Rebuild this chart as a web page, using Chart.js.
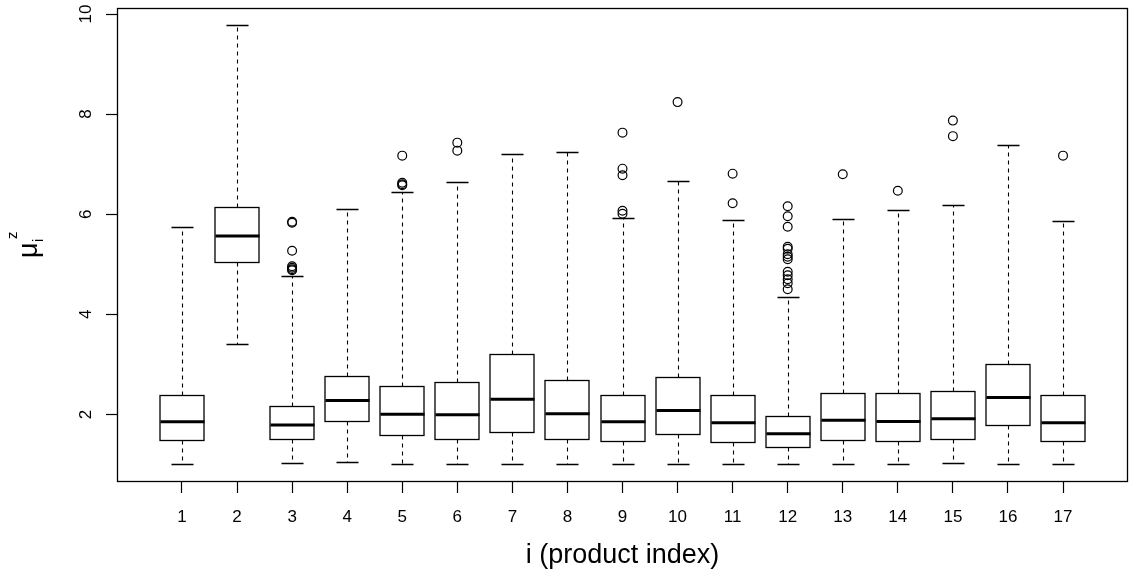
<!DOCTYPE html>
<html>
<head>
<meta charset="utf-8">
<script src="https://cdn.jsdelivr.net/npm/chart.js@4.4.0/dist/chart.umd.min.js"></script>
<style>
  html, body { margin: 0; padding: 0; background: #fff; }
  #wrap { width: 1136px; height: 579px; position: relative; }
</style>
</head>
<body>
<div id="wrap"><canvas id="boxChart"></canvas></div>
<script>
// product index
const categories = [1, 2, 3, 4, 5, 6, 7, 8, 9, 10, 11, 12, 13, 14, 15, 16, 17];

// five-number summaries
const whiskerLow  = [1.00, 3.40, 1.03, 1.04, 1.016, 1.016, 1.016, 1.016, 1.016, 1.016, 1.016, 1.016, 1.016, 1.016, 1.03, 1.016, 1.016];
const q1          = [1.48, 5.05, 1.515, 1.867, 1.595, 1.50, 1.64, 1.50, 1.475, 1.607, 1.455, 1.342, 1.487, 1.475, 1.515, 1.787, 1.475];
const median      = [1.855, 5.565, 1.79, 2.28, 2.006, 1.994, 2.305, 2.014, 1.854, 2.08, 1.834, 1.615, 1.886, 1.86, 1.914, 2.34, 1.834];
const q3          = [2.385, 6.15, 2.166, 2.77, 2.56, 2.645, 3.21, 2.685, 2.379, 2.738, 2.379, 1.966, 2.425, 2.42, 2.465, 3.017, 2.379];
const whiskerHigh = [5.74, 9.78, 4.77, 6.11, 6.435, 6.635, 7.21, 7.247, 5.924, 6.668, 5.89, 4.34, 5.90, 6.09, 6.19, 7.387, 5.864];

const outliers = [
    [],
    [],
    [5.85, 5.83, 5.27, 4.96, 4.93, 4.90, 4.88],
    [],
    [7.17, 6.63, 6.60, 6.58],
    [7.43, 7.27],
    [],
    [],
    [7.63, 6.91, 6.78, 6.07, 6.01],
    [8.24],
    [6.81, 6.22],
    [6.16, 5.96, 5.75, 5.35, 5.31, 5.20, 5.15, 5.10, 4.85, 4.78, 4.70, 4.62, 4.50],
    [6.80],
    [6.47],
    [7.87, 7.56],
    [],
    [7.17]
];

const yTicks = [2, 4, 6, 8, 10];

const FONT = "'Liberation Sans', Arial, Helvetica, sans-serif";
Chart.defaults.font.family = FONT;
Chart.defaults.color = '#000';

const outlierPoints = categories.flatMap((c, i) => outliers[i].map(v => ({ x: c, y: v })));

// draws boxes, whiskers, frame and the rotated y-axis texts
const boxPlotPlugin = {
    id: 'boxPlot',
    beforeDatasetsDraw(chart) {
        const { ctx, scales: { x, y } } = chart;
        const unit = x.getPixelForValue(1) - x.getPixelForValue(0);
        const half = unit * 0.4;
        ctx.save();
        ctx.strokeStyle = '#000';
        categories.forEach((c, i) => {
            const cx = Math.round(x.getPixelForValue(c)) + 0.5;
            const yLo = Math.round(y.getPixelForValue(whiskerLow[i])) + 0.5;
            const yQ1 = Math.round(y.getPixelForValue(q1[i])) + 0.5;
            const yMed = y.getPixelForValue(median[i]);
            const yQ3 = Math.round(y.getPixelForValue(q3[i])) + 0.5;
            const yHi = Math.round(y.getPixelForValue(whiskerHigh[i])) + 0.5;

            // whiskers (dashed)
            ctx.lineWidth = 1.1;
            ctx.setLineDash([4, 4]);
            ctx.beginPath();
            ctx.moveTo(cx, yQ1); ctx.lineTo(cx, yLo);
            ctx.moveTo(cx, yQ3); ctx.lineTo(cx, yHi);
            ctx.stroke();

            // caps
            ctx.setLineDash([]);
            ctx.lineWidth = 1.3;
            ctx.beginPath();
            ctx.moveTo(cx - half / 2, yLo); ctx.lineTo(cx + half / 2, yLo);
            ctx.moveTo(cx - half / 2, yHi); ctx.lineTo(cx + half / 2, yHi);
            ctx.stroke();

            // box
            ctx.fillStyle = '#fff';
            ctx.fillRect(cx - half, yQ3, half * 2, yQ1 - yQ3);
            ctx.strokeRect(Math.round(cx - half), yQ3, Math.round(half * 2), yQ1 - yQ3);

            // median
            ctx.lineWidth = 3;
            ctx.beginPath();
            ctx.moveTo(cx - half, yMed); ctx.lineTo(cx + half, yMed);
            ctx.stroke();
        });
        ctx.restore();
    },
    afterDraw(chart) {
        const { ctx, chartArea: a, scales: { y } } = chart;
        ctx.save();
        // plot frame
        ctx.strokeStyle = '#000';
        ctx.lineWidth = 1.3;
        ctx.strokeRect(Math.round(a.left) + 0.5, Math.round(a.top) + 0.5,
            Math.round(a.right - a.left) - 1, Math.round(a.bottom - a.top) - 1);

        // y tick labels, parallel to the axis
        ctx.fillStyle = '#000';
        ctx.font = '17px ' + FONT;
        ctx.textAlign = 'center';
        ctx.textBaseline = 'alphabetic';
        yTicks.forEach(v => {
            ctx.save();
            ctx.translate(91, y.getPixelForValue(v));
            ctx.rotate(-Math.PI / 2);
            ctx.fillText(String(v), 0, 0);
            ctx.restore();
        });

        // y axis title: mu with superscript z and subscript i
        const mid = (a.top + a.bottom) / 2;
        ctx.translate(37, mid + 13);
        ctx.rotate(-Math.PI / 2);
        ctx.textAlign = 'left';
        ctx.font = '27px ' + FONT;
        ctx.fillText('\u03bc', 0, 0);
        ctx.font = '15px ' + FONT;
        ctx.fillText('z', 19, -20);
        ctx.fillText('i', 16, 6);
        ctx.restore();
    }
};

new Chart(document.getElementById('boxChart'), {
    type: 'scatter',
    data: {
        datasets: [{
            data: outlierPoints,
            pointStyle: 'circle',
            pointRadius: 4.4,
            pointHoverRadius: 4.4,
            borderColor: '#000',
            borderWidth: 1.2,
            backgroundColor: 'rgba(0,0,0,0)',
            showLine: false
        }]
    },
    options: {
        responsive: true,
        maintainAspectRatio: false,
        animation: false,
        events: [],
        layout: { padding: { top: 8, right: 8, left: 0, bottom: 0 } },
        plugins: {
            legend: { display: false },
            tooltip: { enabled: false }
        },
        scales: {
            x: {
                type: 'linear',
                min: -0.18,
                max: 18.18,
                afterBuildTicks: s => { s.ticks = categories.map(v => ({ value: v })); },
                afterFit: s => { s.height = 97; },
                ticks: { font: { size: 17 }, color: '#000', padding: 14, maxRotation: 0, autoSkip: false },
                grid: { drawOnChartArea: false, drawTicks: true, tickLength: 11, tickColor: '#000', tickWidth: 1.2 },
                border: { display: false },
                title: {
                    display: true,
                    text: 'i (product index)',
                    font: { size: 27 },
                    color: '#000',
                    padding: { top: 0, bottom: 7 }
                }
            },
            y: {
                type: 'linear',
                min: 0.65,
                max: 10.12,
                afterBuildTicks: s => { s.ticks = yTicks.map(v => ({ value: v })); },
                afterFit: s => { s.width = 117; },
                ticks: { display: false },
                grid: { drawOnChartArea: false, drawTicks: true, tickLength: 11, tickColor: '#000', tickWidth: 1.2 },
                border: { display: false }
            }
        }
    },
    plugins: [boxPlotPlugin]
});
</script>
</body>
</html>
